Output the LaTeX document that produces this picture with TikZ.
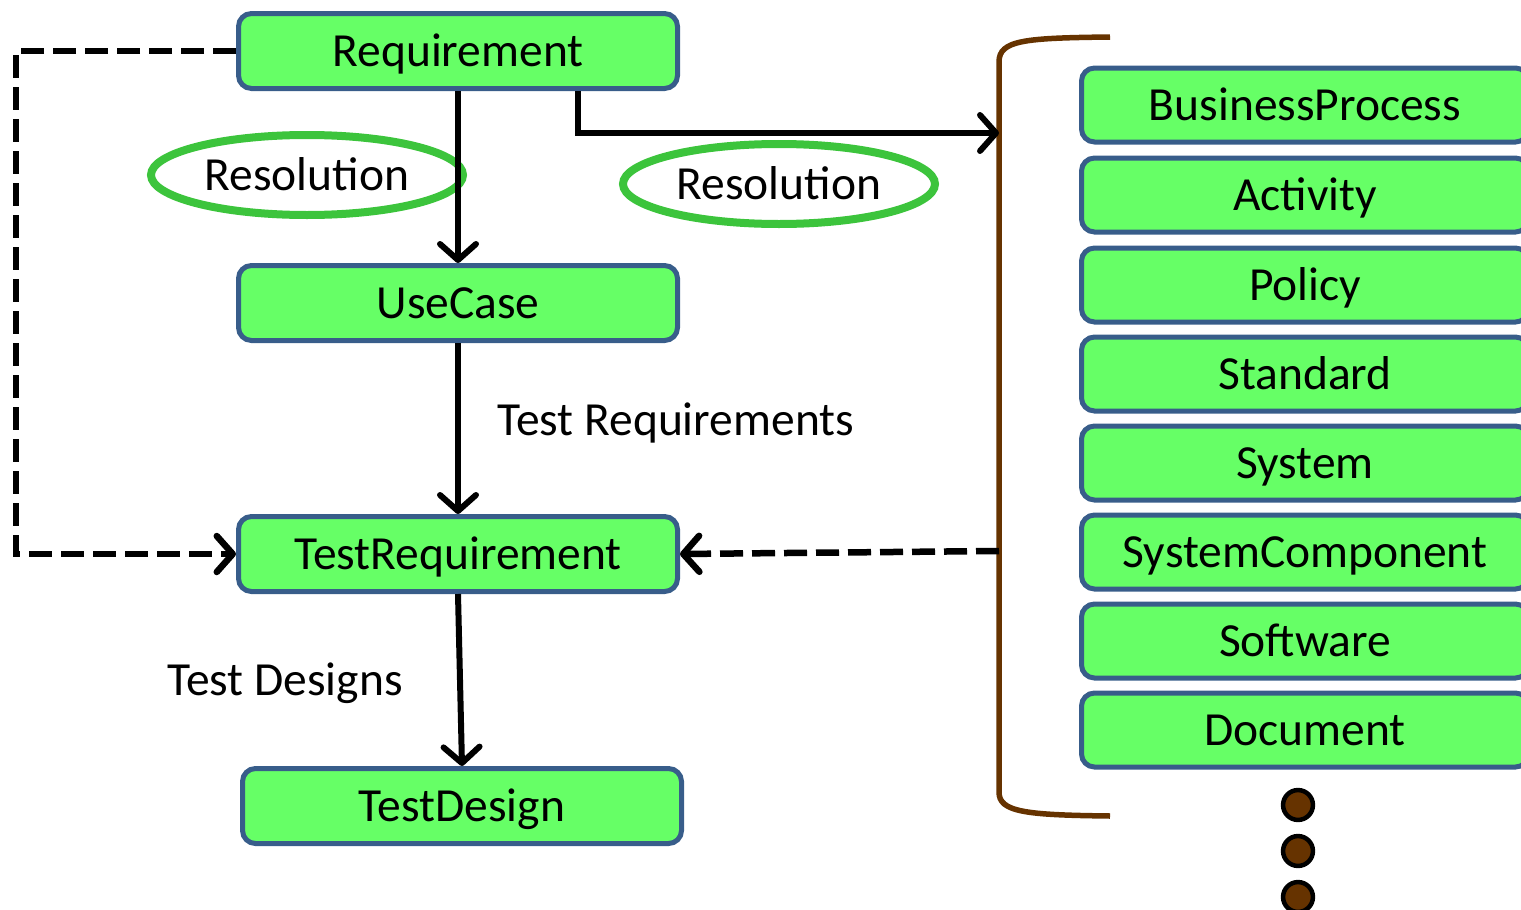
\documentclass[tikz,border=0pt]{standalone}
\usepackage{fontspec}
\setmainfont{Carlito}
\usepackage{tikz}
\usetikzlibrary{arrows.meta,shapes.geometric}

\definecolor{boxgreen}{RGB}{102,255,102}
\definecolor{boxblue}{RGB}{56,93,138}
\definecolor{ringgreen}{RGB}{60,196,60}
\definecolor{brackbrown}{RGB}{102,51,0}

\begin{document}
\begin{tikzpicture}[x=1pt,y=-1pt]
\tikzstyle{every node}+=[inner sep=0pt, font=\fontsize{47.5}{57}\selectfont, text height=30pt, text depth=0pt]
\tikzstyle{elem}=[rectangle, rounded corners=13pt, draw=boxblue, fill=boxgreen, line width=5pt, minimum width=439pt, minimum height=75pt]
\tikzstyle{kind}=[elem, minimum width=447pt, minimum height=74pt]
\tikzstyle{ring}=[ellipse, draw=ringgreen, line width=8pt, minimum width=312pt, minimum height=80pt]
\tikzstyle{flow}=[black, line width=6pt, -{Straight Barb[length=16pt,width=36pt,line cap=round,line join=round]}]
\tikzstyle{trace}=[flow, dash pattern=on 23pt off 9pt, line width=6.5pt]
\useasboundingbox (0,0) rectangle (1521,910);
\clip (0,0) rectangle (1521,910);
\node [elem] (req) at (458,51) {Requirement};
\node [elem] (uc) at (458,303) {UseCase};
\node [elem] (treq) at (458,554) {TestRequirement};
\node [elem] (tdes) at (462,806) {TestDesign};
\node [kind] (bp) at (1305,105) {BusinessProcess};
\node [kind] (act) at (1305,195) {Activity};
\node [kind] (pol) at (1305,285) {Policy};
\node [kind] (std) at (1305,374) {Standard};
\node [kind] (sys) at (1305,463) {System};
\node [kind] (comp) at (1305,552) {SystemComponent};
\node [kind] (sw) at (1305,641) {Software};
\node [kind] (doc) at (1305,730) {Document};
\node [ring] (res1) at (307,175) {Resolution};
\node [ring] (res2) at (779,184) {Resolution};
\node [anchor=west] (trlabel) at (497,420) {Test Requirements};
\node [anchor=west] (tdlabel) at (167,680) {Test Designs};
% bracket round the kinds
\draw [brackbrown, line width=5.5pt] (1110,37) .. controls (1025,38) and (999,40) .. (999,62) -- (999,792) .. controls (999,812) and (1025,815) .. (1110,816);
\coordinate (brin) at (999,133);
\coordinate (brout) at (999,551);
\node [circle, draw=black, fill=brackbrown, line width=4.5pt, minimum size=23pt] (dot1) at (1298,805) {};
\node [circle, draw=black, fill=brackbrown, line width=4.5pt, minimum size=23pt] (dot2) at (1298,851) {};
\node [circle, draw=black, fill=brackbrown, line width=4.5pt, minimum size=23pt] (dot3) at (1298,897) {};
% connectors
\draw [flow] (req.south) -- (uc.north);
\draw [flow] (uc.south) -- (treq.north);
\draw [flow] (treq.south) -- (tdes.north);
\draw [flow] ([xshift=120pt]req.south) |- (brin);
\draw [trace] (req.west) -- ++(-220,0) |- (treq.west);
\draw [trace] (brout) -- (treq.east);
\end{tikzpicture}
\end{document}
